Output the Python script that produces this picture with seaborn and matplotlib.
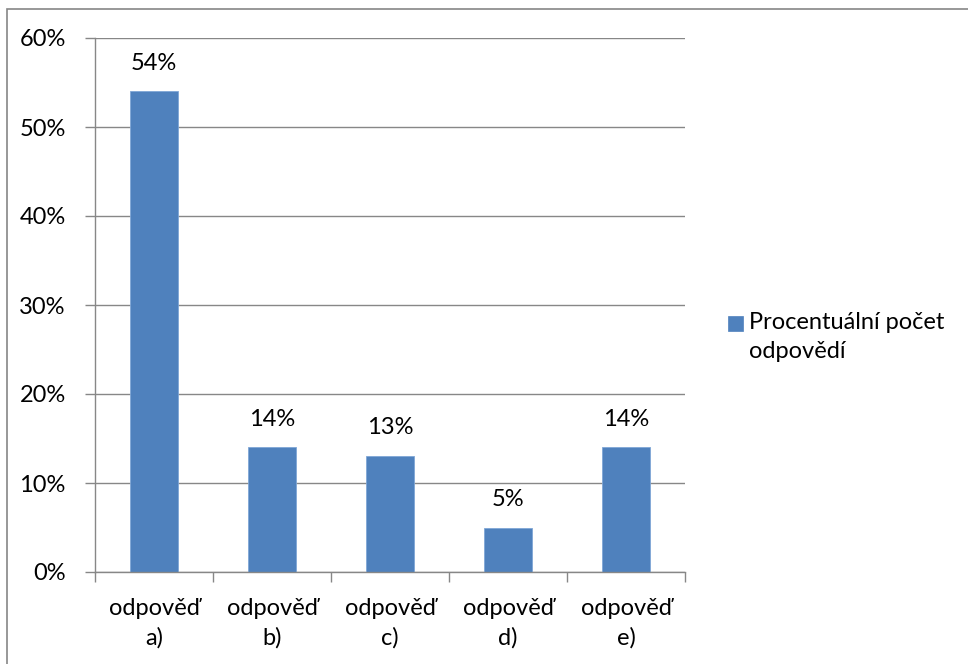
import matplotlib
matplotlib.use("Agg")
import matplotlib.pyplot as plt
import matplotlib.patches as mpatches
import seaborn as sns
import pandas as pd
from matplotlib.ticker import FuncFormatter, MultipleLocator

categories = ["odpověď\na)", "odpověď\nb)", "odpověď\nc)", "odpověď\nd)", "odpověď\ne)"]
values = [54, 14, 13, 5, 14]
value_labels = ["54%", "14%", "13%", "5%", "14%"]
series_name = "Procentuální počet\nodpovědí"

sns.set_theme(style="white")
plt.rcParams['font.family'] = ['Lato', 'DejaVu Sans']

FS = 17
W, H = 968, 664
fig = plt.figure(figsize=(W / 100, H / 100), dpi=100)
ax = fig.add_axes([95 / W, 1 - 572 / H, (685 - 95) / W, (572 - 38) / H])

df = pd.DataFrame({"cat": categories, "val": values})
bar_color = "#4F81BD"
sns.barplot(data=df, x="cat", y="val", color=bar_color, width=0.40, ax=ax,
            saturation=1, edgecolor="#7FA6D6", linewidth=0.6)

ax.set_ylim(0, 60)
ax.set_xlim(-0.5, len(categories) - 0.5)
ax.yaxis.set_major_locator(MultipleLocator(10))
ax.yaxis.set_major_formatter(FuncFormatter(lambda v, p: f"{int(round(v))}%"))
ax.set_xlabel("")
ax.set_ylabel("")

grid_col = "#878787"
ax.yaxis.grid(True, color=grid_col, linewidth=1.0)
ax.set_axisbelow(True)
for s in ["top", "right"]:
    ax.spines[s].set_visible(False)
for s in ["left", "bottom"]:
    ax.spines[s].set_color(grid_col)
    ax.spines[s].set_linewidth(1.0)

# x ticks at category boundaries
ax.set_xticks([i - 0.5 for i in range(len(categories) + 1)], minor=False)
ax.set_xticklabels([])
ax.set_xticks(range(len(categories)), minor=True)
ax.set_xticklabels(categories, minor=True)
ax.tick_params(axis="x", which="major", length=7, width=1.0, color=grid_col, direction="out")
ax.tick_params(axis="x", which="minor", length=0, pad=19, labelsize=FS, labelcolor="black")
for lbl in ax.get_xticklabels(minor=True):
    lbl.set_linespacing(1.45)
ax.tick_params(axis="y", length=7, width=1.0, color=grid_col, direction="out",
               labelsize=FS, labelcolor="black", pad=14)
ax.tick_params(axis="both", which="both", bottom=True, left=True)

for i, (v, t) in enumerate(zip(values, value_labels)):
    ax.text(i, v + 2.0, t, ha="center", va="bottom", fontsize=FS, color="black")

# legend (key aligned with the first text line, as in the reference)
fig.add_artist(mpatches.Rectangle((728 / W, 1 - 331 / H), 15 / W, 15 / H,
                                  transform=fig.transFigure, facecolor=bar_color,
                                  edgecolor=bar_color, linewidth=0.5))
fig.text(749 / W, 1 - 312 / H, series_name, ha="left", va="top",
         fontsize=FS, color="black", linespacing=1.45)

# outer border
fig.add_artist(mpatches.Rectangle((6.5 / W, -0.01), 1.0, 1 - 8.5 / H + 0.01,
                                  transform=fig.transFigure, fill=False,
                                  edgecolor="#868686", linewidth=1.2))

fig.savefig("out.png", dpi=100)
